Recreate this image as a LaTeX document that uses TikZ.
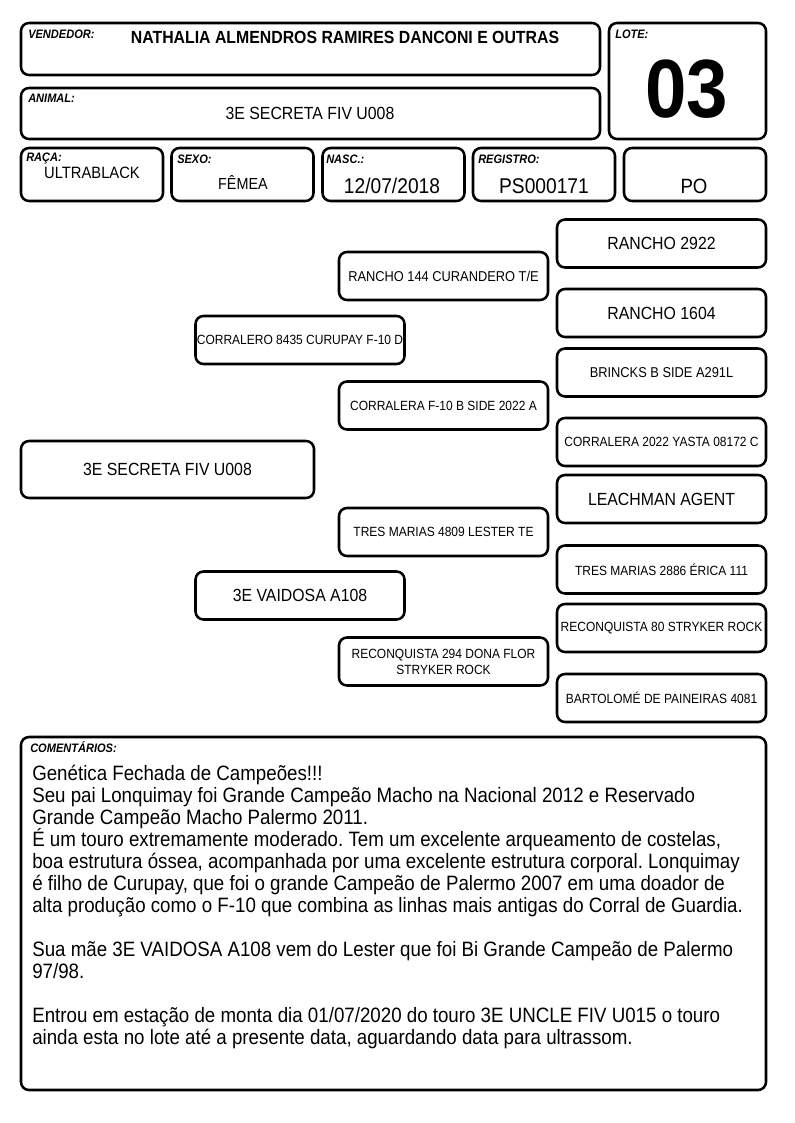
\documentclass[tikz,border=0pt]{standalone}
\usepackage{fontspec}
\setmainfont{Liberation Sans}[FakeStretch=0.9]
\usetikzlibrary{positioning}

\tikzset{
  box/.style={draw, line width=1.9pt, rounded corners=6pt, inner sep=0pt, align=center},
  field/.style={anchor=base west, inner sep=0pt, font=\fontsize{9.2}{11}\selectfont\bfseries\itshape},
  value/.style={anchor=base, inner sep=0pt, font=\fontsize{13.2}{16}\selectfont},
  ped/.style={box, minimum width=156.75pt, minimum height=36pt, font=\fontsize{10}{12}\selectfont},
  pedbig/.style={ped, font=\fontsize{13.2}{16}\selectfont},
}

\begin{document}
\begin{tikzpicture}[x=0.75pt, y=-0.75pt]
  \useasboundingbox (0,0) rectangle (794,1123);
  \frenchspacing
  \lineskiplimit=-100pt

  % Header boxes
  \node[box, minimum width=434.25pt, minimum height=39pt] (vend) at (310.5,49) {};
  \node[box, minimum width=117.75pt, minimum height=87pt] (lote) at (687.5,81) {};
  \node[box, minimum width=434.25pt, minimum height=38.25pt] (animal) at (310.5,113.5) {};
  \node[box, minimum width=106.5pt, minimum height=39.75pt] (raca) at (92,174.5) {};
  \node[box, minimum width=106.5pt, minimum height=39.75pt] (sexo) at (242.5,174.5) {};
  \node[box, minimum width=106.5pt, minimum height=39.75pt] (nasc) at (393.5,174.5) {};
  \node[box, minimum width=106.5pt, minimum height=39.75pt] (registro) at (544,174.5) {};
  \node[box, minimum width=106.5pt, minimum height=39.75pt] (cat) at (695,174.5) {};

  % Header labels
  \node[field] (vendlbl) at (28,39) {VENDEDOR:};
  \node[field] (lotelbl) at (615,39) {LOTE:};
  \node[field] (animallbl) at (28,103) {ANIMAL:};
  \node[field] (racalbl) at (26,162) {RAÇA:};
  \node[field] (sexolbl) at (177,164) {SEXO:};
  \node[field] (nasclbl) at (326,164) {NASC.:};
  \node[field] (registrolbl) at (478,164) {REGISTRO:};

  % Header values
  \node[value, font=\fontsize{13.2}{16}\selectfont\bfseries] (vendname) at (345,44) {NATHALIA ALMENDROS RAMIRES DANCONI E OUTRAS};
  \node[value, font=\fontsize{62}{68}\selectfont\bfseries] (lotenum) at (687,118) {03};
  \node[value] (animalname) at (310,120) {3E SECRETA FIV U008};
  \node[value, font=\fontsize{12.3}{15}\selectfont] (racaval) at (92,179) {ULTRABLACK};
  \node[value, font=\fontsize{12}{15}\selectfont] (sexoval) at (243,190) {FÊMEA};
  \node[value, font=\fontsize{16}{19}\selectfont] (nascval) at (392,193.5) {12/07/2018};
  \node[value, font=\fontsize{16}{19}\selectfont] (registroval) at (544,193.5) {PS000171};
  \node[value, font=\fontsize{15.5}{19}\selectfont] (catval) at (694,194) {PO};

  % Pedigree
  \node[pedbig, minimum width=219.75pt, minimum height=42.75pt] (animalped) at (167.5,469.5) {3E SECRETA FIV U008};
  \node[ped] (pai) at (300,340) {CORRALERO 8435 CURUPAY F-10 D};
  \node[pedbig] (mae) at (300,595.5) {3E VAIDOSA A108};
  \node[ped, font=\fontsize{10.7}{13}\selectfont] (avopp) at (443.5,276) {RANCHO 144 CURANDERO T/E};
  \node[ped] (avopm) at (443.5,405.5) {CORRALERA F-10 B SIDE 2022 A};
  \node[ped] (avomp) at (443.5,532) {TRES MARIAS 4809 LESTER TE};
  \node[ped] (avomm) at (443.5,661.5) {RECONQUISTA 294 DONA FLOR\\STRYKER ROCK};
  \node[pedbig] (bis1) at (661.5,243.5) {RANCHO 2922};
  \node[pedbig] (bis2) at (661.5,313) {RANCHO 1604};
  \node[ped, font=\fontsize{10.7}{13}\selectfont] (bis3) at (661.5,372.5) {BRINCKS B SIDE A291L};
  \node[ped] (bis4) at (661.5,442) {CORRALERA 2022 YASTA 08172 C};
  \node[pedbig] (bis5) at (661.5,499) {LEACHMAN AGENT};
  \node[ped] (bis6) at (661.5,569.5) {TRES MARIAS 2886 ÉRICA 111};
  \node[ped] (bis7) at (661.5,628) {RECONQUISTA 80 STRYKER ROCK};
  \node[ped] (bis8) at (661.5,698) {BARTOLOMÉ DE PAINEIRAS 4081};

  % Comments
  \node[box, minimum width=558.75pt, minimum height=264.75pt] (coment) at (393.5,913.5) {};
  \node[field] (comentlbl) at (30,752) {COMENTÁRIOS:};
  \node[anchor=north west, inner sep=0pt, align=left, font=\fontsize{15.6}{16.5}\selectfont] (comenttxt) at (32,765) {%
    Genética Fechada de Campeões!!!\\
    Seu pai Lonquimay foi Grande Campeão Macho na Nacional 2012 e Reservado\\
    Grande Campeão Macho Palermo 2011.\\
    É um touro extremamente moderado. Tem um excelente arqueamento de costelas,\\
    boa estrutura óssea, acompanhada por uma excelente estrutura corporal. Lonquimay\\
    é filho de Curupay, que foi o grande Campeão de Palermo 2007 em uma doador de\\
    alta produção como o F-10 que combina as linhas mais antigas do Corral de Guardia.\\[16.5pt]
    Sua mãe 3E VAIDOSA A108 vem do Lester que foi Bi Grande Campeão de Palermo\\
    97/98.\\[16.5pt]
    Entrou em estação de monta dia 01/07/2020 do touro 3E UNCLE FIV U015 o touro\\
    ainda esta no lote até a presente data, aguardando data para ultrassom.};
\end{tikzpicture}
\end{document}
